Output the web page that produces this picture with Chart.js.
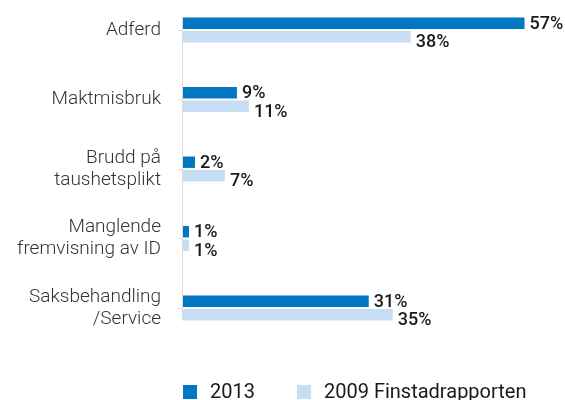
<!DOCTYPE html>
<html>
<head>
<meta charset="utf-8">
<script src="https://cdn.jsdelivr.net/npm/chart.js@4"></script>
<style>
html,body{margin:0;padding:0;background:#fff;}
#wrap{width:565px;height:400px;position:relative;}
</style>
</head>
<body>
<div id="wrap"><canvas id="c" width="565" height="400"></canvas></div>
<script>
const categories = [["Adferd"], ["Maktmisbruk"], ["Brudd på", "taushetsplikt"], ["Manglende", "fremvisning av ID"], ["Saksbehandling", "/Service"]];
const series2013 = [57, 9, 2, 1, 31];
const series2009 = [38, 11, 7, 1, 35];
const seriesNames = ["2013", "2009 Finstadrapporten"];
const colors = ["#0077c0", "#c6ddf3"];

const FONT = "Roboto, sans-serif";

const valueLabels = {
  id: 'valueLabels',
  afterDatasetsDraw(chart) {
    const ctx = chart.ctx;
    ctx.save();
    ctx.font = "500 18px " + FONT;
    ctx.fillStyle = "#1a1a1a";
    ctx.textAlign = "left";
    ctx.textBaseline = "middle";
    chart.data.datasets.forEach((ds, di) => {
      const meta = chart.getDatasetMeta(di);
      meta.data.forEach((bar, i) => {
        const dy = di === 1 ? 5 : 0;
        ctx.fillText(ds.data[i] + "%", bar.x + 5, bar.y + dy + 1);
      });
    });
    ctx.restore();
  }
};

const axisLine = {
  id: 'axisLine',
  beforeDatasetsDraw(chart) {
    const ctx = chart.ctx;
    const metaA = chart.getDatasetMeta(0);
    const metaB = chart.getDatasetMeta(1);
    const first = metaA.data[0];
    const last = metaB.data[metaB.data.length - 1];
    const x = chart.chartArea.left - 0.5;
    ctx.save();
    ctx.strokeStyle = "#dcdcdc";
    ctx.lineWidth = 1;
    ctx.beginPath();
    ctx.moveTo(x, first.y - first.height / 2);
    ctx.lineTo(x, last.y + last.height / 2);
    ctx.stroke();
    ctx.restore();
  }
};

const customLegend = {
  id: 'customLegend',
  afterDraw(chart) {
    const ctx = chart.ctx;
    ctx.save();
    ctx.font = "20px " + FONT;
    ctx.textBaseline = "middle";
    ctx.textAlign = "left";
    let x = chart.chartArea.left;
    const y = 392;
    seriesNames.forEach((name, i) => {
      ctx.fillStyle = colors[i];
      ctx.fillRect(x, y - 7, 14, 14);
      ctx.fillStyle = "#1a1a1a";
      ctx.fillText(name, x + 27, y + 1);
      x += 27 + ctx.measureText(name).width + 42;
    });
    ctx.restore();
  }
};

new Chart(document.getElementById('c'), {
  type: 'bar',
  data: {
    labels: categories,
    datasets: [
      { label: seriesNames[0], data: series2013, backgroundColor: colors[0], categoryPercentage: 0.39, barPercentage: 0.84, clip: false },
      { label: seriesNames[1], data: series2009, backgroundColor: colors[1], categoryPercentage: 0.39, barPercentage: 0.84, clip: false }
    ]
  },
  options: {
    indexAxis: 'y',
    responsive: false,
    animation: false,
    layout: { padding: { top: 30, bottom: 92, right: 22.5, left: 0 } },
    plugins: { legend: { display: false }, tooltip: { enabled: false } },
    scales: {
      x: { display: false, min: 0, max: 60 },
      y: {
        offset: false,
        afterFit(scale) { scale.width = 183; scale.paddingTop = 0; scale.paddingBottom = 0; },
        border: { display: false },
        grid: { drawOnChartArea: false, drawTicks: true, tickLength: 5, color: "#dcdcdc", offset: false },
        ticks: { padding: 17, color: "#333", font: { family: FONT, size: 19, weight: 300, lineHeight: 1.16 } }
      }
    }
  },
  plugins: [valueLabels, axisLine, customLegend]
});
</script>
</body>
</html>
